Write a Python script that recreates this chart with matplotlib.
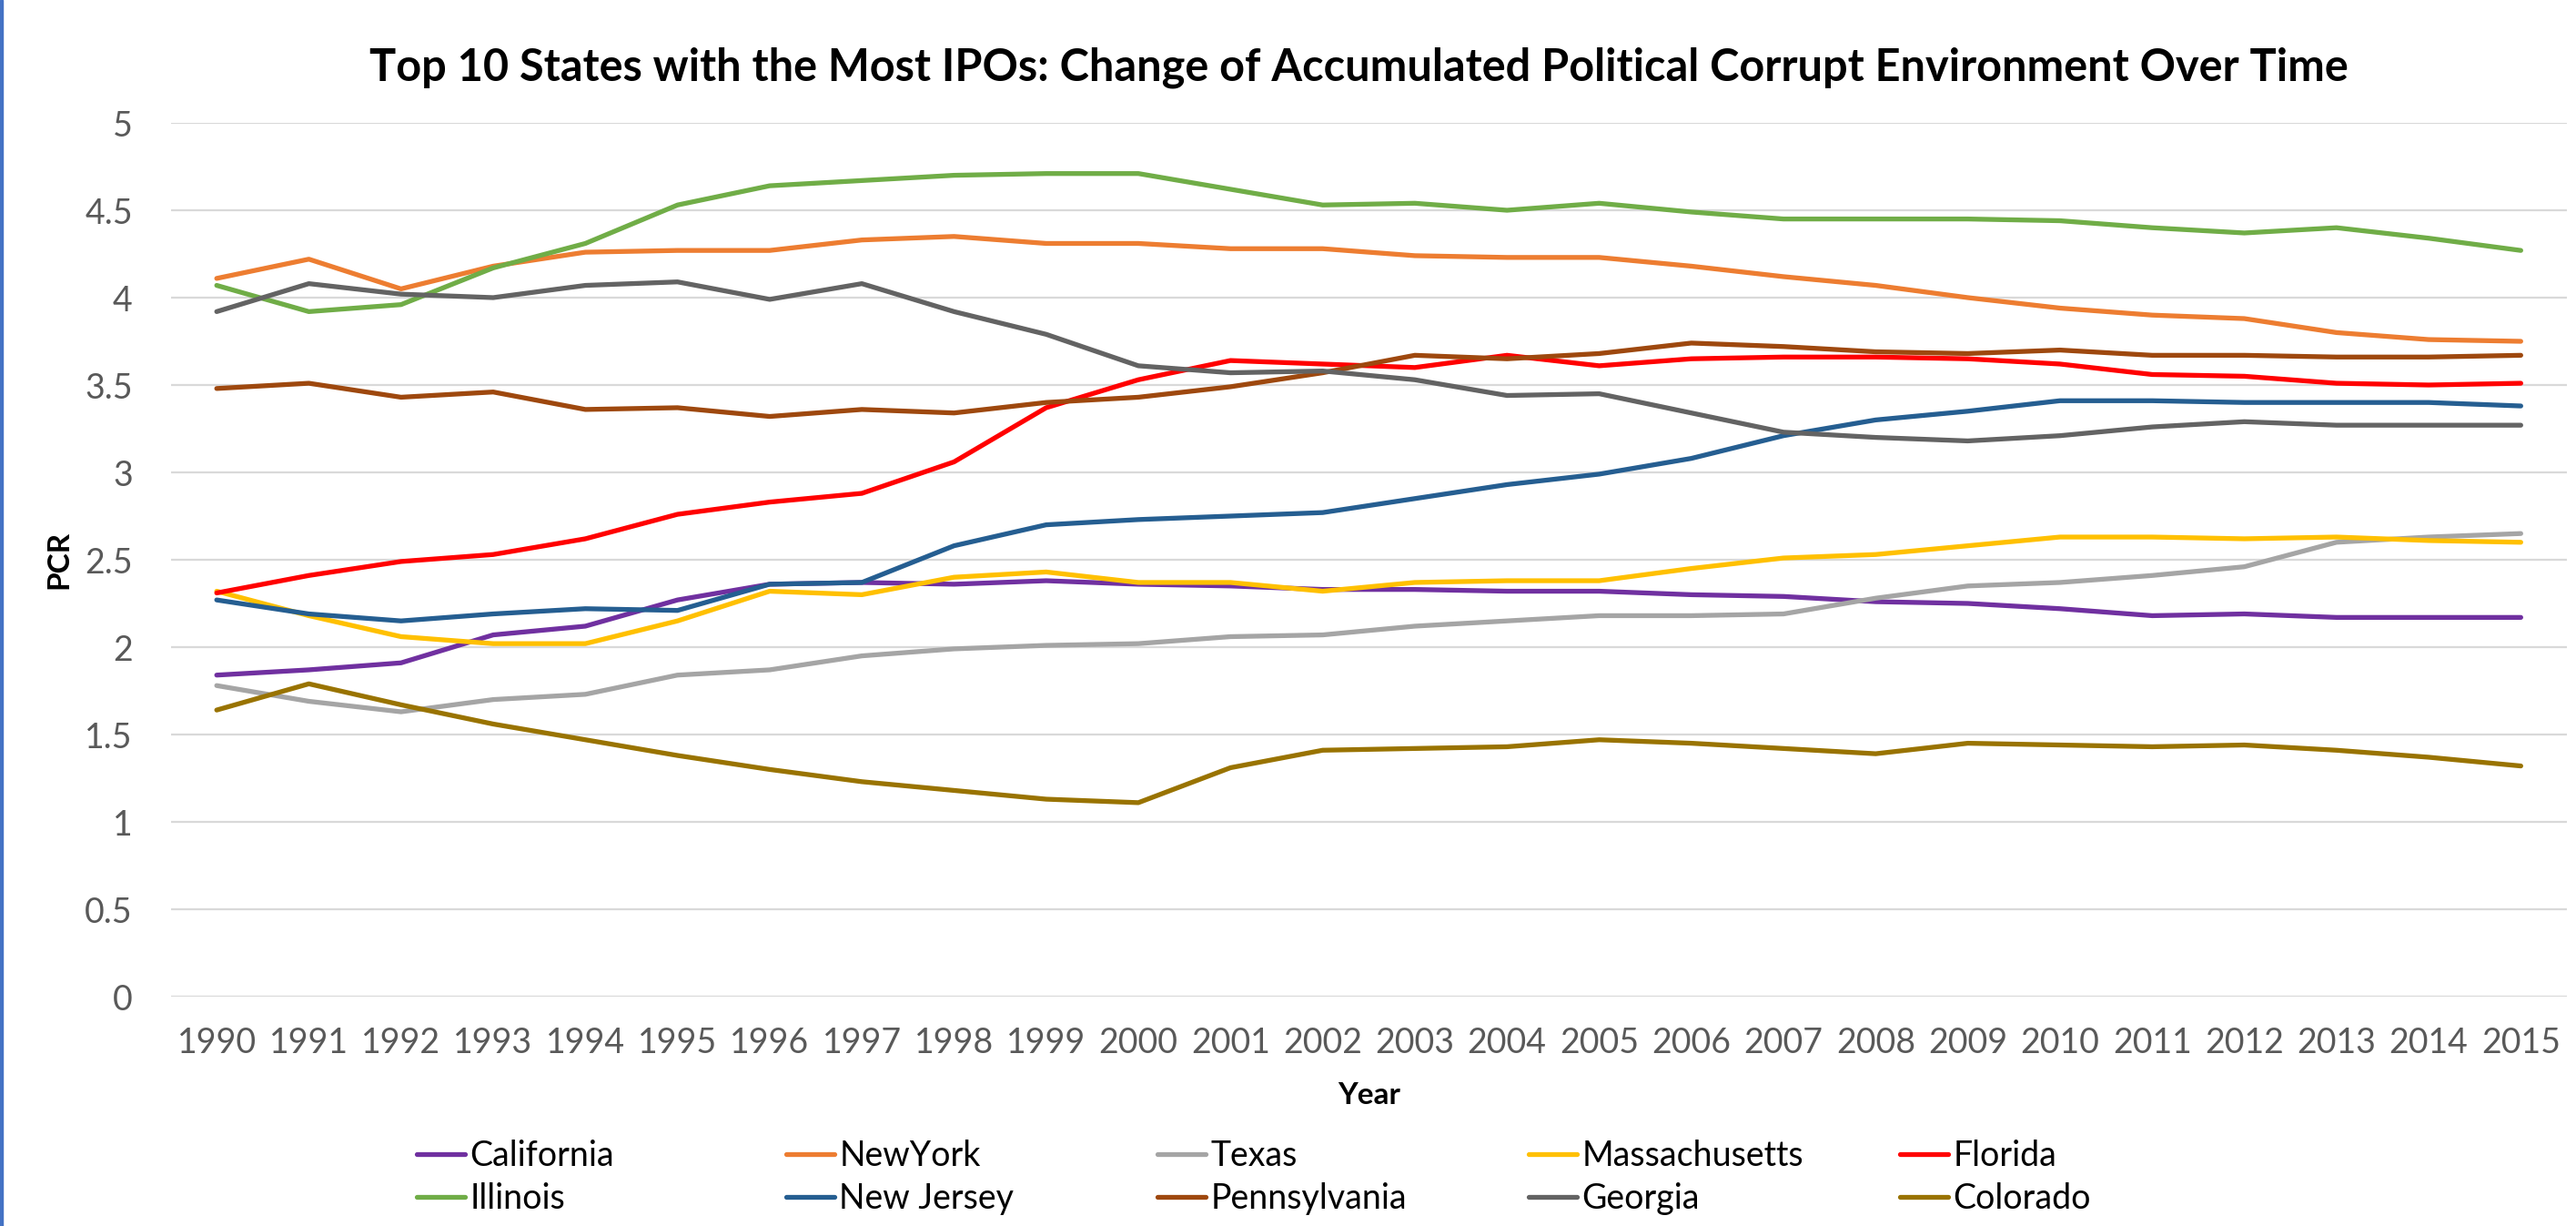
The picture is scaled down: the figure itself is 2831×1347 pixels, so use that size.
import matplotlib
matplotlib.use("Agg")
import matplotlib.pyplot as plt
from matplotlib.patches import Rectangle

years = list(range(1990, 2016))

california = [1.84, 1.87, 1.91, 2.07, 2.12, 2.27, 2.36, 2.37, 2.36, 2.38, 2.36, 2.35, 2.33,
              2.33, 2.32, 2.32, 2.30, 2.29, 2.26, 2.25, 2.22, 2.18, 2.19, 2.17, 2.17, 2.17]
new_york = [4.11, 4.22, 4.05, 4.18, 4.26, 4.27, 4.27, 4.33, 4.35, 4.31, 4.31, 4.28, 4.28,
            4.24, 4.23, 4.23, 4.18, 4.12, 4.07, 4.00, 3.94, 3.90, 3.88, 3.80, 3.76, 3.75]
texas = [1.78, 1.69, 1.63, 1.70, 1.73, 1.84, 1.87, 1.95, 1.99, 2.01, 2.02, 2.06, 2.07,
         2.12, 2.15, 2.18, 2.18, 2.19, 2.28, 2.35, 2.37, 2.41, 2.46, 2.60, 2.63, 2.65]
massachusetts = [2.32, 2.18, 2.06, 2.02, 2.02, 2.15, 2.32, 2.30, 2.40, 2.43, 2.37, 2.37, 2.32,
                 2.37, 2.38, 2.38, 2.45, 2.51, 2.53, 2.58, 2.63, 2.63, 2.62, 2.63, 2.61, 2.60]
florida = [2.31, 2.41, 2.49, 2.53, 2.62, 2.76, 2.83, 2.88, 3.06, 3.37, 3.53, 3.64, 3.62,
           3.60, 3.67, 3.61, 3.65, 3.66, 3.66, 3.65, 3.62, 3.56, 3.55, 3.51, 3.50, 3.51]
illinois = [4.07, 3.92, 3.96, 4.17, 4.31, 4.53, 4.64, 4.67, 4.70, 4.71, 4.71, 4.62, 4.53,
            4.54, 4.50, 4.54, 4.49, 4.45, 4.45, 4.45, 4.44, 4.40, 4.37, 4.40, 4.34, 4.27]
new_jersey = [2.27, 2.19, 2.15, 2.19, 2.22, 2.21, 2.36, 2.37, 2.58, 2.70, 2.73, 2.75, 2.77,
              2.85, 2.93, 2.99, 3.08, 3.21, 3.30, 3.35, 3.41, 3.41, 3.40, 3.40, 3.40, 3.38]
pennsylvania = [3.48, 3.51, 3.43, 3.46, 3.36, 3.37, 3.32, 3.36, 3.34, 3.40, 3.43, 3.49, 3.57,
                3.67, 3.65, 3.68, 3.74, 3.72, 3.69, 3.68, 3.70, 3.67, 3.67, 3.66, 3.66, 3.67]
georgia = [3.92, 4.08, 4.02, 4.00, 4.07, 4.09, 3.99, 4.08, 3.92, 3.79, 3.61, 3.57, 3.58,
           3.53, 3.44, 3.45, 3.34, 3.23, 3.20, 3.18, 3.21, 3.26, 3.29, 3.27, 3.27, 3.27]
colorado = [1.64, 1.79, 1.67, 1.56, 1.47, 1.38, 1.30, 1.23, 1.18, 1.13, 1.11, 1.31, 1.41,
            1.42, 1.43, 1.47, 1.45, 1.42, 1.39, 1.45, 1.44, 1.43, 1.44, 1.41, 1.37, 1.32]

states = ["California", "NewYork", "Texas", "Massachusetts", "Florida",
          "Illinois", "New Jersey", "Pennsylvania", "Georgia", "Colorado"]
series = [california, new_york, texas, massachusetts, florida,
          illinois, new_jersey, pennsylvania, georgia, colorado]
colors = ["#7030A0", "#ED7D31", "#A5A5A5", "#FFC000", "#FF0000",
          "#70AD47", "#255E91", "#9E480E", "#636363", "#997300"]

plt.rcParams['font.family'] = ['Lato', 'DejaVu Sans']

W, H = 2831, 1347
fig = plt.figure(figsize=(W / 100, H / 100), dpi=100)
fig.patch.set_facecolor("white")
ax = fig.add_axes([187.5 / W, 1 - 1095 / H, (2821 - 187.5) / W, (1095 - 135) / H])

x = list(range(len(years)))
lines = []
for name, vals, col in zip(states, series, colors):
    ln, = ax.plot(x, vals, color=col, lw=3.8, label=name,
                  solid_capstyle="round", solid_joinstyle="round")
    lines.append(ln)

ax.set_xlim(-0.5, len(years) - 0.5)
ax.set_ylim(0, 5)
ax.set_yticks([0, 0.5, 1, 1.5, 2, 2.5, 3, 3.5, 4, 4.5, 5])
ax.set_yticklabels(["0", "0.5", "1", "1.5", "2", "2.5", "3", "3.5", "4", "4.5", "5"])
ax.set_xticks(x)
ax.set_xticklabels([str(y) for y in years])
ax.tick_params(axis="both", length=0, labelsize=27, labelcolor="#595959")
ax.tick_params(axis="y", pad=30)
ax.tick_params(axis="x", pad=24)
ax.grid(axis="y", color="#D9D9D9", lw=1.6)
ax.set_axisbelow(True)
for s in ax.spines.values():
    s.set_visible(False)

ax.set_xlabel("Year", fontsize=24, fontweight="bold", labelpad=18)
ax.set_ylabel("PCR", fontsize=24, fontweight="bold", labelpad=10)

fig.text(1493 / W, 1 - 74 / H,
         "Top 10 States with the Most IPOs: Change of Accumulated Political Corrupt Environment Over Time",
         ha="center", va="center", fontsize=35, fontweight="bold", color="black")

# legend: 5 columns, 2 rows, equally spaced like Excel
col_x = [458, 864, 1272, 1680, 2088]
for c in range(5):
    leg = fig.legend([lines[c], lines[c + 5]], [states[c], states[c + 5]],
                     loc="upper left", bbox_to_anchor=(col_x[c] / W, 1 - 1252 / H),
                     frameon=False, fontsize=27, handlelength=1.4, handletextpad=0.15,
                     borderpad=0, borderaxespad=0, labelspacing=0.3)
    for ln in leg.get_lines():
        ln.set_linewidth(3.8)

# blue border at the left edge of the picture
fig.patches.append(Rectangle((0, 0), 3 / W, 1, transform=fig.transFigure,
                             color="#4472C4", zorder=10))

fig.savefig("out.png", dpi=100)
